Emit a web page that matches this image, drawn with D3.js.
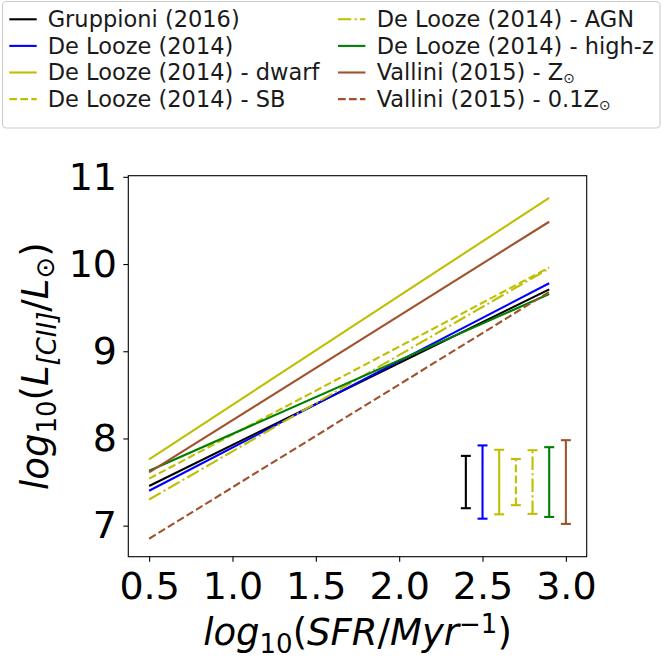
<!DOCTYPE html>
<html><head><meta charset="utf-8">
<script src="https://cdn.jsdelivr.net/npm/d3@7"></script>
<style>body{margin:0;background:#fff}</style>
</head><body>
<svg id="c" width="662" height="664" xmlns="http://www.w3.org/2000/svg"></svg>
<script>
// ---- data ----
const seriesLabels = ["Gruppioni (2016)", "De Looze (2014)", "De Looze (2014) - dwarf", "De Looze (2014) - SB",
  "De Looze (2014) - AGN", "De Looze (2014) - high-z", "Vallini (2015) - Z", "Vallini (2015) - 0.1Z"];
const xStart = 0.5;
const xEnd = 2.9;
const yStart = [7.455, 7.40, 7.76, 7.54, 7.30, 7.63, 7.61, 6.85];
const yEnd   = [9.71, 9.78, 10.76, 9.96, 9.95, 9.656, 10.485, 9.68];
const errX      = [2.4, 2.5, 2.6, 2.7, 2.8, 2.9, 3.0];
const errCenter = [7.5, 7.5, 7.5, 7.5, 7.5, 7.5, 7.5];
const errHalf   = [0.30, 0.42, 0.37, 0.265, 0.365, 0.40, 0.48];
const xTicks = [0.5, 1.0, 1.5, 2.0, 2.5, 3.0];
const yTicks = [7, 8, 9, 10, 11];

// ---- styles ----
const colors = ["#000000", "#0000ff", "#bfbf00", "#bfbf00", "#bfbf00", "#008000", "#a0522d", "#a0522d"];
const dashes = [null, null, null, "7.7,3.3", "13.3,3.3,2.1,3.3", null, null, "7.7,3.3"];

const svg = d3.select("#c");
const F = "DejaVu Sans, sans-serif";
const L = 128.3, R = 586.7, T = 175.7, B = 556.7;
const x = d3.scaleLinear().domain([0.375, 3.125]).range([L, R]);
const y = d3.scaleLinear().domain([6.644, 11.013]).range([B, T]);

// lines
const line = d3.line().x(d => x(d[0])).y(d => y(d[1]));
seriesLabels.forEach((s, i) => {
  svg.append("path")
    .attr("d", line([[xStart, yStart[i]], [xEnd, yEnd[i]]]))
    .attr("fill", "none").attr("stroke", colors[i]).attr("stroke-width", 2.1)
    .attr("stroke-dasharray", dashes[i]);
});

// error bars
errX.forEach((ex, i) => {
  const g = svg.append("g");
  g.append("line").attr("x1", x(ex)).attr("x2", x(ex))
    .attr("y1", y(errCenter[i] - errHalf[i])).attr("y2", y(errCenter[i] + errHalf[i]))
    .attr("stroke", colors[i]).attr("stroke-width", 2.1).attr("stroke-dasharray", dashes[i]);
  [errCenter[i] - errHalf[i], errCenter[i] + errHalf[i]].forEach(v => {
    g.append("line").attr("x1", x(ex) - 5).attr("x2", x(ex) + 5)
      .attr("y1", y(v)).attr("y2", y(v)).attr("stroke", colors[i]).attr("stroke-width", 2.1);
  });
});

// frame
svg.append("rect").attr("x", L).attr("y", T).attr("width", R - L).attr("height", B - T)
  .attr("fill", "none").attr("stroke", "#000").attr("stroke-width", 1.1);

// axes
const xa = svg.append("g").attr("transform", `translate(0,${B})`)
  .call(d3.axisBottom(x).tickValues(xTicks).tickFormat(d3.format(".1f")).tickSize(5).tickPadding(10.3));
const ya = svg.append("g").attr("transform", `translate(${L},0)`)
  .call(d3.axisLeft(y).tickValues(yTicks).tickFormat(d3.format("d")).tickSize(5).tickPadding(6.3));
[xa, ya].forEach(a => {
  a.select(".domain").remove();
  a.selectAll(".tick line").attr("stroke", "#000").attr("stroke-width", 1.1);
  a.selectAll(".tick text").attr("font-family", F).attr("font-size", 38).attr("fill", "#000");
});

// x label
const xl = svg.append("text").attr("x", (L + R) / 2).attr("y", 645)
  .attr("text-anchor", "middle").attr("font-family", F).attr("font-size", 37).attr("fill", "#000");
xl.append("tspan").attr("font-style", "italic").text("log");
xl.append("tspan").attr("font-size", 26).attr("dy", 7.7).text("10");
xl.append("tspan").attr("dy", -7.7).text("(");
xl.append("tspan").attr("font-style", "italic").text("SFR");
xl.append("tspan").text("/");
xl.append("tspan").attr("font-style", "italic").text("Myr");
xl.append("tspan").attr("font-size", 26).attr("dy", -12).text("\u22121");
xl.append("tspan").attr("dy", 12).text(")");

// y label
const yl = svg.append("text").attr("transform", `translate(48,${(T + B) / 2}) rotate(-90)`)
  .attr("text-anchor", "middle").attr("font-family", F).attr("font-size", 37).attr("fill", "#000");
yl.append("tspan").attr("font-style", "italic").text("log");
yl.append("tspan").attr("font-size", 26).attr("dy", 7.7).text("10");
yl.append("tspan").attr("dy", -7.7).text("(");
yl.append("tspan").attr("font-style", "italic").text("L");
yl.append("tspan").attr("font-size", 26).attr("font-style", "italic").attr("dy", 7.7).text("[CII]");
yl.append("tspan").attr("dy", -7.7).text("/");
yl.append("tspan").attr("font-style", "italic").text("L");
yl.append("tspan").attr("font-size", 26).attr("dy", 6).text("\u2299");
yl.append("tspan").attr("dy", -6).text(")");

// legend
svg.append("rect").attr("x", 2.5).attr("y", 1.5).attr("width", 657.5).attr("height", 126.5)
  .attr("rx", 4).attr("fill", "#fff").attr("fill-opacity", 0.8).attr("stroke", "#cccccc").attr("stroke-width", 1.1);
const colX = [9.3, 338];
const textX = [47.7, 376.7];
seriesLabels.forEach((s, i) => {
  const c = Math.floor(i / 4), r = i % 4;
  const ry = 19.3 + r * 26.6;
  svg.append("line").attr("x1", colX[c]).attr("x2", colX[c] + 27.4).attr("y1", ry).attr("y2", ry)
    .attr("stroke", colors[i]).attr("stroke-width", 2.1).attr("stroke-dasharray", dashes[i]);
  const t = svg.append("text").attr("x", textX[c]).attr("y", ry + 7.6)
    .attr("font-family", F).attr("font-size", 22.5).attr("fill", "#1a1a1a");
  t.append("tspan").text(s);
  if (i >= 6) t.append("tspan").attr("font-size", 14).attr("dy", 3).text("\u2299");
});
</script>
</body></html>
